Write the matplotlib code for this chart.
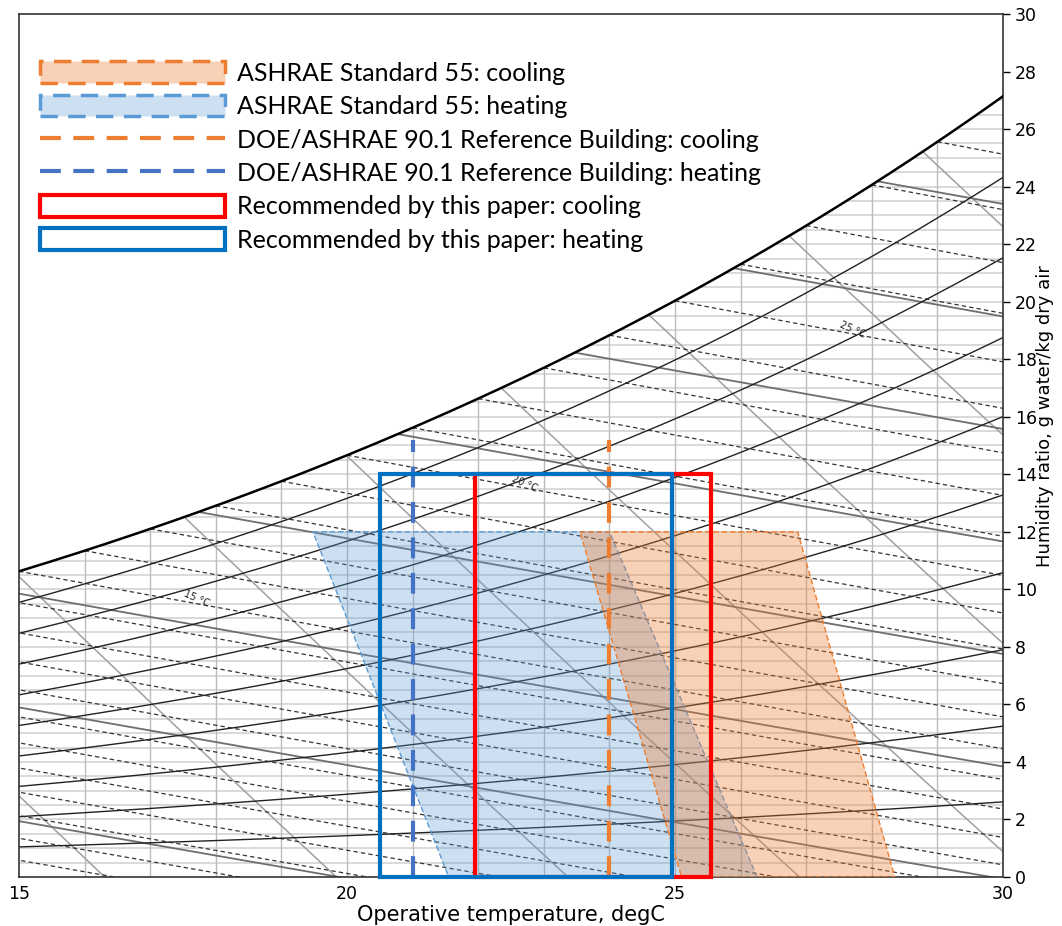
import numpy as np
import matplotlib
matplotlib.use("Agg")
import matplotlib.pyplot as plt
from matplotlib.patches import Polygon, Patch, Rectangle
from matplotlib.lines import Line2D

P_ATM = 101325.0

# chart range
t_lim = [15, 30]
w_lim = [0, 30]

# psychrometric background lines
rh_levels = [10, 20, 30, 40, 50, 60, 70, 80, 90]
wet_bulb_temps = list(range(0, 30))
enthalpy_levels = [20, 30, 40, 50, 60, 70, 80, 90]
volume_levels = [0.82, 0.83, 0.84, 0.85, 0.86, 0.87, 0.88, 0.89]
wb_label_temps = [15, 20, 25]
wb_label_pos = [17.7, 22.7, 27.7]

# comfort zones (operative temperature degC, humidity ratio g/kg)
ashrae_cooling = [(23.55, 12), (26.87, 12), (28.35, 0), (25.1, 0)]
ashrae_heating = [(19.48, 12), (24.0, 12), (26.25, 0), (21.55, 0)]
doe_cooling_t = 24.0
doe_heating_t = 21.0
doe_top_w = 15.2
rec_cooling = [21.95, 25.55, 0, 14]   # t_min, t_max, w_min, w_max
rec_heating = [20.5, 24.95, 0, 14]

labels = ["ASHRAE Standard 55: cooling",
          "ASHRAE Standard 55: heating",
          "DOE/ASHRAE 90.1 Reference Building: cooling",
          "DOE/ASHRAE 90.1 Reference Building: heating",
          "Recommended by this paper: cooling",
          "Recommended by this paper: heating"]

c_orange = "#ed7d31"
c_lblue = "#5b9bd5"
c_dblue = "#4472c4"
c_red = "#ff0000"
c_blue = "#0070c0"


def p_ws(t):
    return 610.94 * np.exp(17.625 * t / (t + 243.04))


def w_rh(t, rh):
    pw = rh / 100.0 * p_ws(t)
    return 622.0 * pw / (P_ATM - pw)


def w_wetbulb(t, twb):
    ws = w_rh(twb, 100) / 1000.0
    return 1000.0 * ((2501 - 2.326 * twb) * ws - 1.006 * (t - twb)) / (2501 + 1.86 * t - 4.186 * twb)


def w_enthalpy(t, h):
    return 1000.0 * (h - 1.006 * t) / (2501 + 1.86 * t)


def w_volume(t, v):
    return 1000.0 * (v * P_ATM / 1000.0 / (0.287042 * (t + 273.15)) - 1) / 1.607858


fig = plt.figure(figsize=(10.62, 9.26), dpi=100)
ax = fig.add_axes([0.0179, 0.0529, 0.9266, 0.932])
ax.set_xlim(t_lim)
ax.set_ylim(w_lim)

t_sat = np.linspace(t_lim[0], t_lim[1], 200)
w_sat = w_rh(t_sat, 100)
clip = Polygon(list(zip(t_sat, w_sat)) + [(30, 0), (15, 0)], closed=True,
               transform=ax.transData, facecolor="none", edgecolor="none")
ax.add_patch(clip)


def clipped(lines):
    for ln in lines:
        ln.set_clip_path(clip)


# grid
for w in np.arange(0.5, 30, 0.5):
    clipped(ax.plot(t_lim, [w, w], color="#d9d9d9", lw=1.4, zorder=1))
for t in range(16, 30):
    clipped(ax.plot([t, t], [0, 30], color="#bcbcbc", lw=1.0, zorder=1))

# constant specific volume
tt = np.linspace(10, 32, 50)
for v in volume_levels:
    clipped(ax.plot(tt, w_volume(tt, v), color="#a0a0a0", lw=1.1, zorder=2))

# constant enthalpy
for h in enthalpy_levels:
    clipped(ax.plot(tt, w_enthalpy(tt, h), color="#6e6e6e", lw=1.3, zorder=2))

# constant wet bulb
for twb in wet_bulb_temps:
    tw = np.linspace(twb, 32, 60)
    clipped(ax.plot(tw, w_wetbulb(tw, twb), color="#333333", lw=0.9,
                    ls=(0, (3.5, 2.5)), zorder=2))
for twb, tp in zip(wb_label_temps, wb_label_pos):
    ax.text(tp, w_wetbulb(tp, twb) + 0.15, f"{twb} °C", fontsize=7,
            rotation=-24, ha="center", va="center", color="#222222", zorder=2)

# constant relative humidity
for rh in rh_levels:
    ax.plot(t_sat, w_rh(t_sat, rh), color="#222222", lw=1.0, zorder=2)

# saturation
ax.plot(t_sat, w_sat, color="black", lw=1.8, zorder=3)

# ASHRAE 55 zones
ax.add_patch(Polygon(ashrae_heating, closed=True, facecolor=c_lblue, alpha=0.3,
                     edgecolor="none", zorder=3))
ax.add_patch(Polygon(ashrae_heating, closed=True, facecolor="none", edgecolor=c_lblue,
                     lw=1.0, ls=(0, (4, 2)), zorder=3))
ax.add_patch(Polygon(ashrae_cooling, closed=True, facecolor=c_orange, alpha=0.35,
                     edgecolor="none", zorder=3))
ax.add_patch(Polygon(ashrae_cooling, closed=True, facecolor="none", edgecolor=c_orange,
                     lw=1.0, ls=(0, (4, 2)), zorder=3))

# DOE/ASHRAE 90.1 setpoints
ax.plot([doe_heating_t, doe_heating_t], [0, doe_top_w], color=c_dblue, lw=3,
        ls=(0, (5, 3.5)), zorder=4)
ax.plot([doe_cooling_t, doe_cooling_t], [0, doe_top_w], color=c_orange, lw=3,
        ls=(0, (5, 3.5)), zorder=4)

# recommended ranges
for rec, col, z in [(rec_cooling, c_red, 5), (rec_heating, c_blue, 6)]:
    ax.add_patch(Rectangle((rec[0], rec[2]), rec[1] - rec[0], rec[3] - rec[2],
                           facecolor="none", edgecolor=col, lw=3, zorder=z,
                           clip_on=False))

# axes styling
ax.yaxis.tick_right()
ax.yaxis.set_label_position("right")
ax.set_xticks([15, 20, 25, 30])
ax.set_yticks(range(0, 31, 2))
ax.tick_params(axis="x", length=0, labelsize=12.5, pad=6)
ax.tick_params(axis="y", length=5, width=1, labelsize=12.5)
for s in ax.spines.values():
    s.set_linewidth(1.2)
    s.set_color("#333333")
ax.set_xlabel("Operative temperature, degC", fontsize=15, labelpad=1)
ax.set_ylabel("Humidity ratio, g water/kg dry air", fontsize=13, labelpad=6)
ax.yaxis.set_label_coords(1.033, 0.534)

handles = [
    Patch(facecolor=(0.929, 0.49, 0.192, 0.35), edgecolor=c_orange, lw=2.5, ls=(0, (5, 3))),
    Patch(facecolor=(0.357, 0.608, 0.835, 0.3), edgecolor=c_lblue, lw=2.5, ls=(0, (5, 3))),
    Line2D([], [], color=c_orange, lw=3, ls=(0, (5, 3))),
    Line2D([], [], color=c_dblue, lw=3, ls=(0, (5, 3))),
    Patch(facecolor="white", edgecolor=c_red, lw=3),
    Patch(facecolor="white", edgecolor=c_blue, lw=3),
]
leg = ax.legend(handles, labels, loc="upper left", bbox_to_anchor=(0.021, 0.945),
                frameon=False, borderaxespad=0, borderpad=0,
                handlelength=7.4, handleheight=0.95, labelspacing=0.40,
                handletextpad=0.5, prop={"family": ["Lato", "DejaVu Sans"], "size": 18})
leg.set_zorder(10)

fig.savefig("out.png", dpi=100)
